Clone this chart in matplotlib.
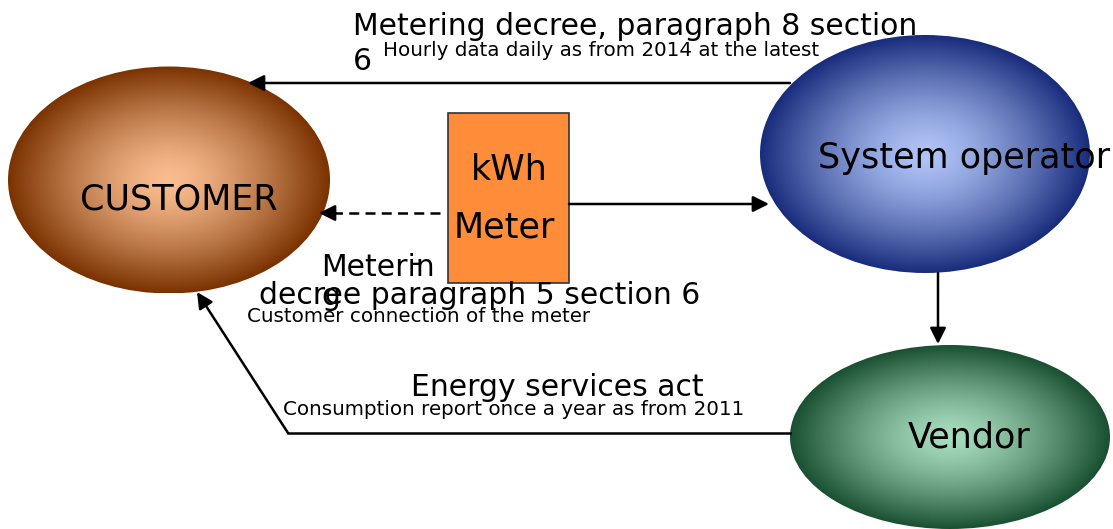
"""Metering information flows between customer, system operator and vendor."""

import matplotlib

matplotlib.use("Agg")
import matplotlib.pyplot as plt
import numpy as np
from matplotlib.patches import Ellipse, Rectangle

# --- content -------------------------------------------------------------
node_names = ["CUSTOMER", "System operator", "Vendor"]
meter_lines = ["kWh", "Meter"]
top_law = ["Metering decree, paragraph 8 section", "6"]
top_note = "Hourly data daily as from 2014 at the latest"
mid_law = ["Meterin", "g", "decree paragraph 5 section 6"]
mid_note = "Customer connection of the meter"
low_law = "Energy services act"
low_note = "Consumption report once a year as from 2011"

# --- layout (pixel space, y down) ----------------------------------------
W, H = 1113, 529
node_geom = {  # centre x, centre y, width, height
    "CUSTOMER": (169, 180, 322, 227),
    "System operator": (925, 154, 330, 238),
    "Vendor": (950, 437, 320, 184),
}
node_colors = {  # inner, outer
    "CUSTOMER": ("#fbbd90", "#7a3200"),
    "System operator": ("#b0c4f8", "#182c7c"),
    "Vendor": ("#a8dcbf", "#1a5032"),
}
node_text = {
    "CUSTOMER": (80, 210),
    "System operator": (818, 168),
    "Vendor": (908, 448),
}

BIG = 21.5
SMALL = 14.3
NODE = 25.2


def hex_rgb(c):
    return np.array(matplotlib.colors.to_rgb(c))


def gradient_ellipse(ax, cx, cy, w, h, inner, outer):
    n = 300
    yy, xx = np.mgrid[-1:1:n * 1j, -1:1:n * 1j]
    t = np.clip(np.sqrt(xx ** 2 + yy ** 2), 0, 1) ** 1.4
    img = hex_rgb(inner) * (1 - t[..., None]) + hex_rgb(outer) * t[..., None]
    im = ax.imshow(img, extent=(cx - w / 2, cx + w / 2, cy + h / 2, cy - h / 2),
                   aspect="auto", interpolation="bilinear", zorder=1)
    clip = Ellipse((cx, cy), w, h, facecolor="none", edgecolor="none")
    ax.add_patch(clip)
    im.set_clip_path(clip)


def arrow(ax, tail, head):
    ax.annotate("", xy=head, xytext=tail,
                arrowprops=dict(arrowstyle="-|>", color="black", lw=1.8,
                                mutation_scale=24, shrinkA=0, shrinkB=0),
                zorder=4)


fig = plt.figure(figsize=(W / 100, H / 100), dpi=100)
ax = fig.add_axes([0, 0, 1, 1])

for name in node_names:
    cx, cy, w, h = node_geom[name]
    gradient_ellipse(ax, cx, cy, w, h, *node_colors[name])
    tx, ty = node_text[name]
    ax.text(tx, ty, name, fontsize=NODE, ha="left", va="baseline", zorder=5)

# meter box
ax.add_patch(Rectangle((448, 113), 121, 170, facecolor="#ff8c38",
                       edgecolor="#333333", lw=1.2, zorder=3))
ax.text(509, 180, meter_lines[0], fontsize=NODE, ha="center", va="baseline", zorder=5)
ax.text(504, 237, meter_lines[1], fontsize=NODE, ha="center", va="baseline", zorder=5)

# arrows
arrow(ax, (790, 83), (248, 83))
ax.plot([440, 334], [213, 213], color="black", lw=1.8, ls=(0, (4, 2.5)), zorder=4)
arrow(ax, (336, 213), (319, 213))
arrow(ax, (569, 204), (769, 204))
arrow(ax, (938, 273), (938, 344))
ax.plot([790, 288], [433, 433], color="black", lw=1.8, zorder=4)
arrow(ax, (288, 433), (197, 292))

# labels
ax.text(353, 35, top_law[0], fontsize=BIG, va="baseline", zorder=5)
ax.text(353, 70, top_law[1], fontsize=BIG, va="baseline", zorder=5)
ax.text(383, 56, top_note, fontsize=SMALL, va="baseline", zorder=5)

ax.text(321, 276, mid_law[0], fontsize=BIG, va="baseline", zorder=5)
ax.text(410, 272, "-", fontsize=BIG, va="baseline", zorder=5)
ax.text(321, 305, mid_law[1], fontsize=BIG, va="baseline", zorder=5)
ax.text(259, 304, mid_law[2], fontsize=BIG, va="baseline", zorder=5)
ax.text(247, 322, mid_note, fontsize=SMALL, va="baseline", zorder=5)

ax.text(411, 396, low_law, fontsize=BIG, va="baseline", zorder=5)
ax.text(283, 415, low_note, fontsize=SMALL, va="baseline", zorder=5)

ax.set_xlim(0, W)
ax.set_ylim(H, 0)
ax.axis("off")
fig.savefig("out.png", dpi=100)
